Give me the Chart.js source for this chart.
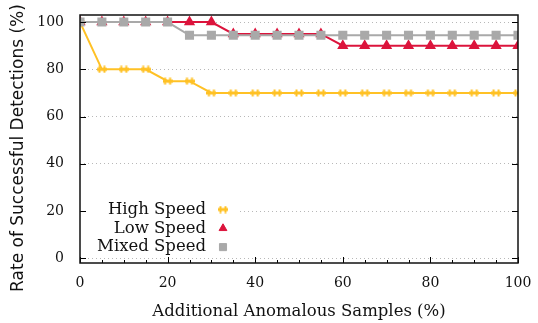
<!DOCTYPE html>
<html>
<head>
<meta charset="utf-8">
<script src="https://cdn.jsdelivr.net/npm/chart.js@4"></script>
<style>
  html, body { margin: 0; padding: 0; background: #fff; }
  #wrap { width: 538px; height: 323px; }
</style>
</head>
<body>
<div id="wrap"><canvas id="chart" width="538" height="323"></canvas></div>
<script>
const xValues = [0, 5, 10, 15, 20, 25, 30, 35, 40, 45, 50, 55, 60, 65, 70, 75, 80, 85, 90, 95, 100];
const highSpeed = [100, 80, 80, 80, 75, 75, 70, 70, 70, 70, 70, 70, 70, 70, 70, 70, 70, 70, 70, 70, 70];
const lowSpeed = [100, 100, 100, 100, 100, 100, 100, 95, 95, 95, 95, 95, 90, 90, 90, 90, 90, 90, 90, 90, 90];
const mixedSpeed = [100, 100, 100, 100, 100, 94.4, 94.4, 94.4, 94.4, 94.4, 94.4, 94.4, 94.4, 94.4, 94.4, 94.4, 94.4, 94.4, 94.4, 94.4, 94.4];
const seriesNames = ["High Speed", "Low Speed", "Mixed Speed"];
const xTicks = [0, 20, 40, 60, 80, 100];
const yTicks = [0, 20, 40, 60, 80, 100];
const yTitle = "Rate of Successful Detections (%)";

const colors = {
  high: "#ffc125",
  low: "#dc143c",
  mixed: "#a9a9a9"
};

const serif = "'DejaVu Serif', serif";
const sans = "'DejaVu Sans', sans-serif";

// gnuplot-ish marker for the high speed series
function hashMarker(color) {
  const c = document.createElement("canvas");
  c.width = 10;
  c.height = 8;
  const g = c.getContext("2d");
  g.fillStyle = color;
  g.fillRect(0, 2.5, 10, 3);
  g.fillRect(1.5, 0.5, 2, 7);
  g.fillRect(6.5, 0.5, 2, 7);
  return c;
}
const highMarker = hashMarker(colors.high);

function toPoints(values) {
  return values.map((y, i) => ({ x: xValues[i], y }));
}

const frameAndTicks = {
  id: "frameAndTicks",
  afterDraw(chart) {
    const { ctx, chartArea: a, scales } = chart;
    ctx.save();
    ctx.strokeStyle = "#000";
    ctx.lineWidth = 1;
    ctx.beginPath();
    // x ticks, inward from the bottom
    for (let v = 0; v <= 100; v += 5) {
      const px = Math.round(scales.x.getPixelForValue(v)) + 0.5;
      const len = v % 20 === 0 ? 6 : 3;
      ctx.moveTo(px, a.bottom);
      ctx.lineTo(px, a.bottom - len);
    }
    // y ticks on both sides
    yTicks.forEach((v) => {
      const py = Math.round(scales.y.getPixelForValue(v)) + 0.5;
      ctx.moveTo(a.left, py);
      ctx.lineTo(a.left + 6, py);
      ctx.moveTo(a.right, py);
      ctx.lineTo(a.right - 6, py);
    });
    ctx.stroke();
    ctx.lineWidth = 1.5;
    ctx.strokeStyle = "#111";
    ctx.strokeRect(a.left, a.top, a.right - a.left, a.bottom - a.top);

    // y axis title, sitting a little below the plot middle like the original
    ctx.translate(19, 148);
    ctx.rotate(-Math.PI / 2);
    ctx.font = "17px " + sans;
    ctx.fillStyle = "#111";
    ctx.textAlign = "center";
    ctx.textBaseline = "middle";
    ctx.fillText(yTitle, 0, 0);
    ctx.restore();
  }
};

const insideLegend = {
  id: "insideLegend",
  afterDatasetsDraw(chart) {
    const { ctx } = chart;
    const styles = [
      { pointStyle: highMarker, radius: 4 },
      { pointStyle: "triangle", radius: 4.5, color: colors.low },
      { pointStyle: "rect", radius: 5, color: colors.mixed }
    ];
    ctx.save();
    ctx.fillStyle = "#fff";
    ctx.fillRect(88, 199, 152, 56);
    ctx.font = "16.5px " + serif;
    ctx.textAlign = "right";
    ctx.textBaseline = "middle";
    seriesNames.forEach((name, i) => {
      const y = 209.5 + i * 18.8;
      ctx.fillStyle = "#111";
      ctx.fillText(name, 206, y);
      const s = styles[i];
      if (s.color) {
        ctx.fillStyle = s.color;
        ctx.strokeStyle = s.color;
      }
      Chart.helpers.drawPoint(ctx, {
        pointStyle: s.pointStyle,
        radius: s.radius,
        rotation: 0,
        borderWidth: 1
      }, 223, y);
    });
    ctx.restore();
  }
};

new Chart(document.getElementById("chart"), {
  type: "line",
  data: {
    datasets: [
      {
        label: seriesNames[0],
        data: toPoints(highSpeed),
        borderColor: colors.high,
        backgroundColor: colors.high,
        borderWidth: 2,
        pointStyle: highMarker,
        order: 3
      },
      {
        label: seriesNames[1],
        data: toPoints(lowSpeed),
        borderColor: colors.low,
        backgroundColor: colors.low,
        borderWidth: 2,
        pointStyle: "triangle",
        pointRadius: 4.5,
        order: 2
      },
      {
        label: seriesNames[2],
        data: toPoints(mixedSpeed),
        borderColor: colors.mixed,
        backgroundColor: colors.mixed,
        borderWidth: 2,
        pointStyle: "rect",
        pointRadius: 5,
        order: 1
      }
    ]
  },
  options: {
    responsive: false,
    animation: false,
    devicePixelRatio: 1,
    layout: { padding: { left: 0, top: 15, right: 20, bottom: 0 } },
    elements: {
      line: { tension: 0 },
      point: { borderWidth: 1, hoverRadius: 5 }
    },
    plugins: {
      legend: { display: false },
      tooltip: { enabled: false }
    },
    scales: {
      x: {
        type: "linear",
        min: 0,
        max: 100,
        afterBuildTicks: (scale) => { scale.ticks = xTicks.map((v) => ({ value: v })); },
        afterFit: (scale) => {
          scale.height = 60;
          scale.paddingLeft = 0;
          scale.paddingRight = 0;
        },
        grid: { display: false, drawTicks: false },
        border: { display: false },
        ticks: {
          padding: 12,
          color: "#111",
          font: { family: serif, size: 14 },
          maxRotation: 0
        },
        title: {
          display: true,
          text: "Additional Anomalous Samples (%)",
          color: "#111",
          font: { family: serif, size: 16.5 },
          padding: { top: 0, bottom: 1 }
        }
      },
      y: {
        min: -2,
        max: 103,
        afterBuildTicks: (scale) => { scale.ticks = yTicks.map((v) => ({ value: v })); },
        afterFit: (scale) => {
          scale.width = 80;
          scale.paddingTop = 0;
          scale.paddingBottom = 0;
        },
        grid: {
          color: "#b8b8b8",
          lineWidth: 1,
          drawTicks: false
        },
        border: { display: false, dash: [1, 3] },
        ticks: {
          padding: 16,
          color: "#111",
          font: { family: serif, size: 14 }
        }
      }
    }
  },
  plugins: [frameAndTicks, insideLegend]
});
</script>
</body>
</html>
